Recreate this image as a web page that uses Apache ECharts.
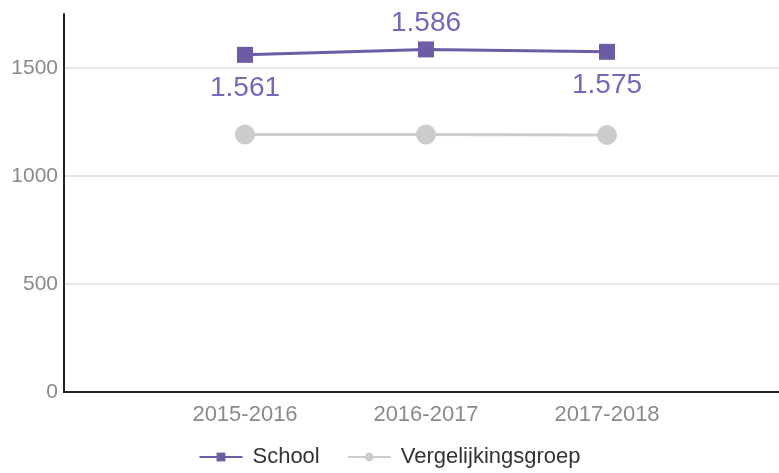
<!DOCTYPE html>
<html>
<head>
<meta charset="utf-8">
<script src="https://cdn.jsdelivr.net/npm/echarts@6/dist/echarts.min.js"></script>
<style>
html,body{margin:0;padding:0;background:#fff;}
#chart{width:779px;height:473px;}
</style>
</head>
<body>
<div id="chart"></div>
<script>
const categories = ['', '2015-2016', '2016-2017', '2017-2018', ''];
const schoolValues = [null, 1561, 1586, 1575, null];
const vergelijkingValues = [null, 1192, 1192, 1190, null];
const yTicks = [0, 500, 1000, 1500];

const FONT = 'Arial, "Liberation Sans", sans-serif';
const chart = echarts.init(document.getElementById('chart'), null, {renderer: 'canvas'});

function nl(v) {
  return String(v).replace(/\B(?=(\d{3})+(?!\d))/g, '.');
}

const schoolData = schoolValues.map((v, i) => ({
  value: v,
  label: { position: i === 2 ? 'top' : 'bottom', distance: i === 2 ? 4 : 11 }
}));

chart.setOption({
  animation: false,
  backgroundColor: '#ffffff',
  textStyle: { fontFamily: FONT },
  grid: { left: 64, width: 724, top: 14, bottom: 81, containLabel: false, outerBoundsMode: 'none' },
  legend: {
    bottom: 0,
    left: 'center',
    itemWidth: 43,
    itemHeight: 11,
    itemGap: 27,
    textStyle: { fontSize: 22, color: '#333333', fontFamily: FONT, padding: [0, 0, 0, 5] },
    data: ['School', 'Vergelijkingsgroep']
  },
  xAxis: {
    type: 'category',
    data: categories,
    boundaryGap: false,
    axisLine: { show: true, lineStyle: { color: '#222222', width: 2 } },
    axisTick: { show: false },
    axisLabel: { fontSize: 22, color: '#8a8a8a', margin: 12, fontFamily: FONT, interval: 0 },
    splitLine: { show: false }
  },
  yAxis: {
    type: 'value',
    min: 0,
    max: 1750,
    interval: 500,
    axisLine: { show: true, lineStyle: { color: '#222222', width: 2 } },
    axisTick: { show: false },
    axisLabel: {
      fontSize: 21, color: '#8a8a8a', margin: 6, fontFamily: FONT,
      formatter: v => (yTicks.indexOf(v) >= 0 ? String(v) : '')
    },
    splitLine: {
      show: true,
      lineStyle: {
        color: yTicks.map(() => '#dcdcdc').concat(['rgba(0,0,0,0)']),
        width: 1.5
      }
    }
  },
  series: [
    {
      name: 'School',
      type: 'line',
      data: schoolData,
      symbol: 'rect',
      symbolSize: 16,
      lineStyle: { color: '#6b5ca5', width: 3 },
      itemStyle: { color: '#6b5ca5' },
      label: {
        show: true,
        fontSize: 28,
        color: '#7668b8',
        fontFamily: FONT,
        formatter: p => nl(p.value)
      },
      z: 3
    },
    {
      name: 'Vergelijkingsgroep',
      type: 'line',
      data: vergelijkingValues,
      symbol: 'circle',
      symbolSize: 20,
      lineStyle: { color: '#cccccc', width: 3 },
      itemStyle: { color: '#cccccc' },
      label: { show: false },
      z: 2
    }
  ]
});
</script>
</body>
</html>
